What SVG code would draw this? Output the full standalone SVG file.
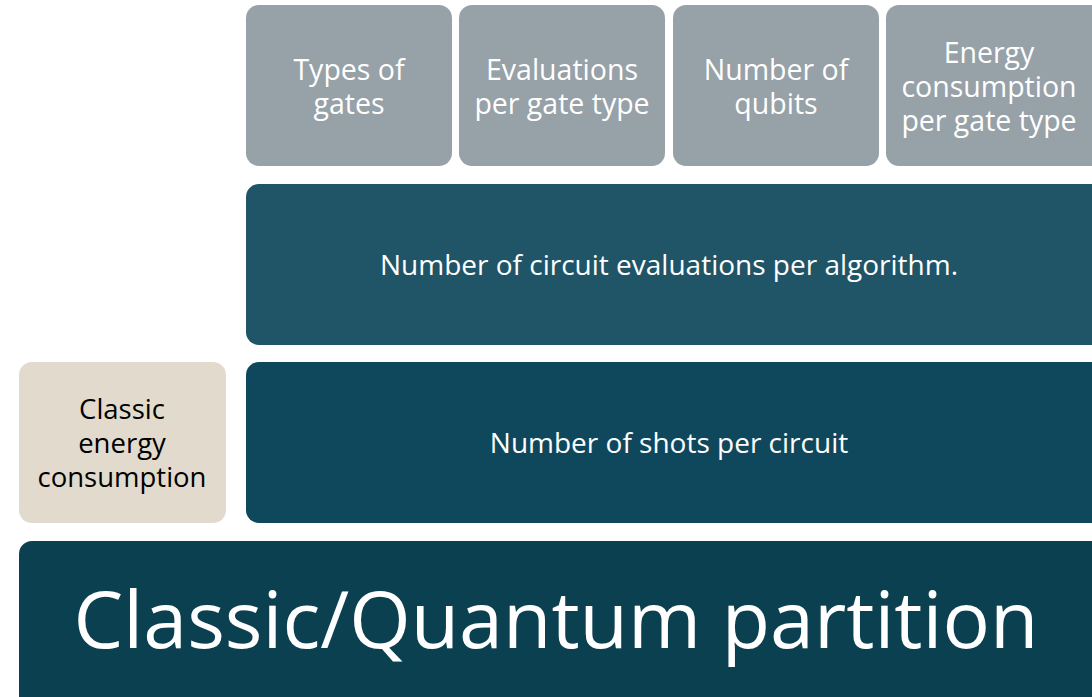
<svg xmlns="http://www.w3.org/2000/svg" width="1092" height="697" viewBox="0 0 1092 697">
<style>
.g{fill:#97a1a8}
.t{font-family:"Open Sans","Liberation Sans",sans-serif;fill:#ffffff;text-anchor:middle}
.s{font-size:28.5px}
.m{font-size:28px}
.d{font-family:"Open Sans","Liberation Sans",sans-serif;fill:#000000;text-anchor:middle;font-size:27.5px}
</style>
<rect width="1092" height="697" fill="#ffffff"/>
<g id="types">
<rect class="g" x="246" y="5" width="206" height="161" rx="13"/>
<text class="t s" x="349" y="80">Types of</text>
<text class="t s" x="349" y="114">gates</text>
</g>
<g id="evals">
<rect class="g" x="459" y="5" width="206" height="161" rx="13"/>
<text class="t s" x="562" y="80">Evaluations</text>
<text class="t s" x="562" y="114">per gate type</text>
</g>
<g id="qubits">
<rect class="g" x="673" y="5" width="206" height="161" rx="13"/>
<text class="t s" x="776" y="80">Number of</text>
<text class="t s" x="776" y="114">qubits</text>
</g>
<g id="energy">
<rect class="g" x="886" y="5" width="220" height="161" rx="13"/>
<text class="t s" x="989" y="63">Energy</text>
<text class="t s" x="989" y="97">consumption</text>
<text class="t s" x="989" y="131">per gate type</text>
</g>
<g id="circuit">
<rect x="246" y="184" width="860" height="161" rx="13" fill="#1f5567"/>
<text class="t m" x="669" y="275">Number of circuit evaluations per algorithm.</text>
</g>
<g id="shots">
<rect x="246" y="362" width="860" height="161" rx="13" fill="#0f485c"/>
<text class="t m" x="669" y="453">Number of shots per circuit</text>
</g>
<g id="classic">
<rect x="19" y="362" width="207" height="161" rx="13" fill="#e2dbcd"/>
<text class="d" x="122" y="419">Classic</text>
<text class="d" x="122" y="453">energy</text>
<text class="d" x="122" y="487">consumption</text>
</g>
<g id="partition">
<rect x="19" y="541" width="1087" height="170" rx="13" fill="#0a404f"/>
<text class="t" x="556" y="648" font-size="79">Classic/Quantum partition</text>
</g>
<g id="connectors"></g>
</svg>
